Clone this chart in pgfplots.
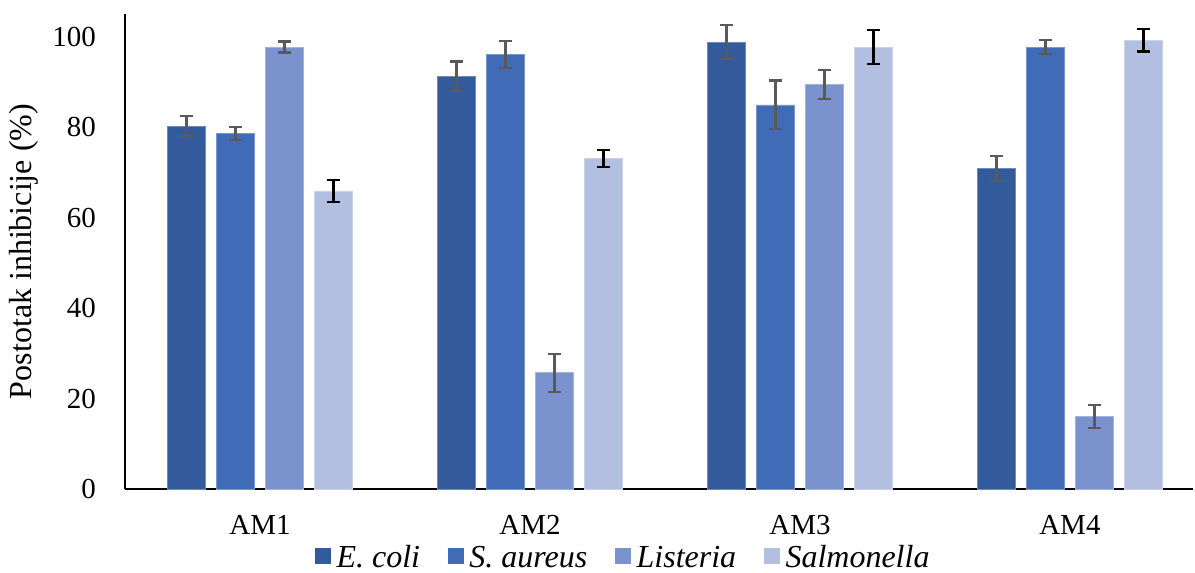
\documentclass[border=0pt]{standalone}
\usepackage{fontspec}
\setmainfont{Liberation Serif}
\usepackage{pgfplots}
\pgfplotsset{compat=1.18}
\definecolor{cA}{HTML}{335A9A}
\definecolor{cB}{HTML}{3F6BB7}
\definecolor{cC}{HTML}{7A93CF}
\definecolor{cD}{HTML}{B3BFE0}
\definecolor{eg}{HTML}{595959}
\begin{document}
\begin{tikzpicture}[font=\fontsize{29}{34}\selectfont]
\path[use as bounding box] (-125pt,-84pt) rectangle (1070pt,489pt);
\begin{axis}[
  scale only axis,
  width=1068pt, height=475pt,
  xmin=-0.5, xmax=3.456,
  ymin=0, ymax=105,
  axis lines=left,
  axis line style={-, line width=1.6pt, black},
  ybar=11pt, bar width=38pt,
  xtick={0,1,2,3},
  xticklabels={AM1,AM2,AM3,AM4},
  ytick={0,20,40,60,80,100},
  major tick length=0pt,
  /pgf/number format/assume math mode=true,
  yticklabel style={anchor=east, inner sep=0pt, xshift=-29pt},
  xticklabel style={anchor=north, inner sep=0pt, yshift=-26pt},
  ylabel={Postotak inhibicije (\%)},
  ylabel style={at={(rel axis cs:-0.0946,0.5)}, anchor=center, font=\fontsize{32}{36}\selectfont},
  legend columns=4,
  legend style={draw=none, fill=none, at={(rel axis cs:0.178,-0.114)}, anchor=north west, inner sep=0pt,
    font=\fontsize{32}{36}\selectfont\itshape,
    nodes={inner sep=2pt},
    /tikz/every even column/.append style={column sep=26pt}},
  legend image code/.code={\fill[#1, draw=none] (0pt,-7pt) rectangle (16pt,9pt); \path (19pt,0pt);},
  error bars/y dir=both,
  error bars/y explicit,
  error bars/error bar style={line width=2.2pt, color=eg},
  error bars/error mark options={rotate=90, mark size=6.5pt, line width=2.2pt, color=eg},
]
\addplot[fill=cA, draw=cA!70!white, line width=0.6pt] coordinates {(0,80.2) +- (0,2.3) (1,91.2) +- (0,3.3) (2,98.8) +- (0,3.8) (3,70.8) +- (0,2.8)};
\addlegendentry{E. coli}
\addplot[fill=cB, draw=cB!70!white, line width=0.6pt] coordinates {(0,78.6) +- (0,1.4) (1,96.0) +- (0,3.0) (2,84.9) +- (0,5.4) (3,97.7) +- (0,1.6)};
\addlegendentry{S. aureus}
\addplot[fill=cC, draw=cC!70!white, line width=0.6pt] coordinates {(0,97.7) +- (0,1.2) (1,25.7) +- (0,4.2) (2,89.4) +- (0,3.2) (3,16.0) +- (0,2.5)};
\addlegendentry{Listeria}
\addplot[fill=cD, draw=cD!70!white, line width=0.6pt,
  error bars/error bar style={line width=2.2pt, color=black},
  error bars/error mark options={rotate=90, mark size=6.5pt, line width=2.2pt, color=black}]
  coordinates {(0,65.9) +- (0,2.4) (1,73.0) +- (0,1.9) (2,97.7) +- (0,3.7) (3,99.2) +- (0,2.5)};
\addlegendentry{Salmonella}
\end{axis}
\end{tikzpicture}
\end{document}
